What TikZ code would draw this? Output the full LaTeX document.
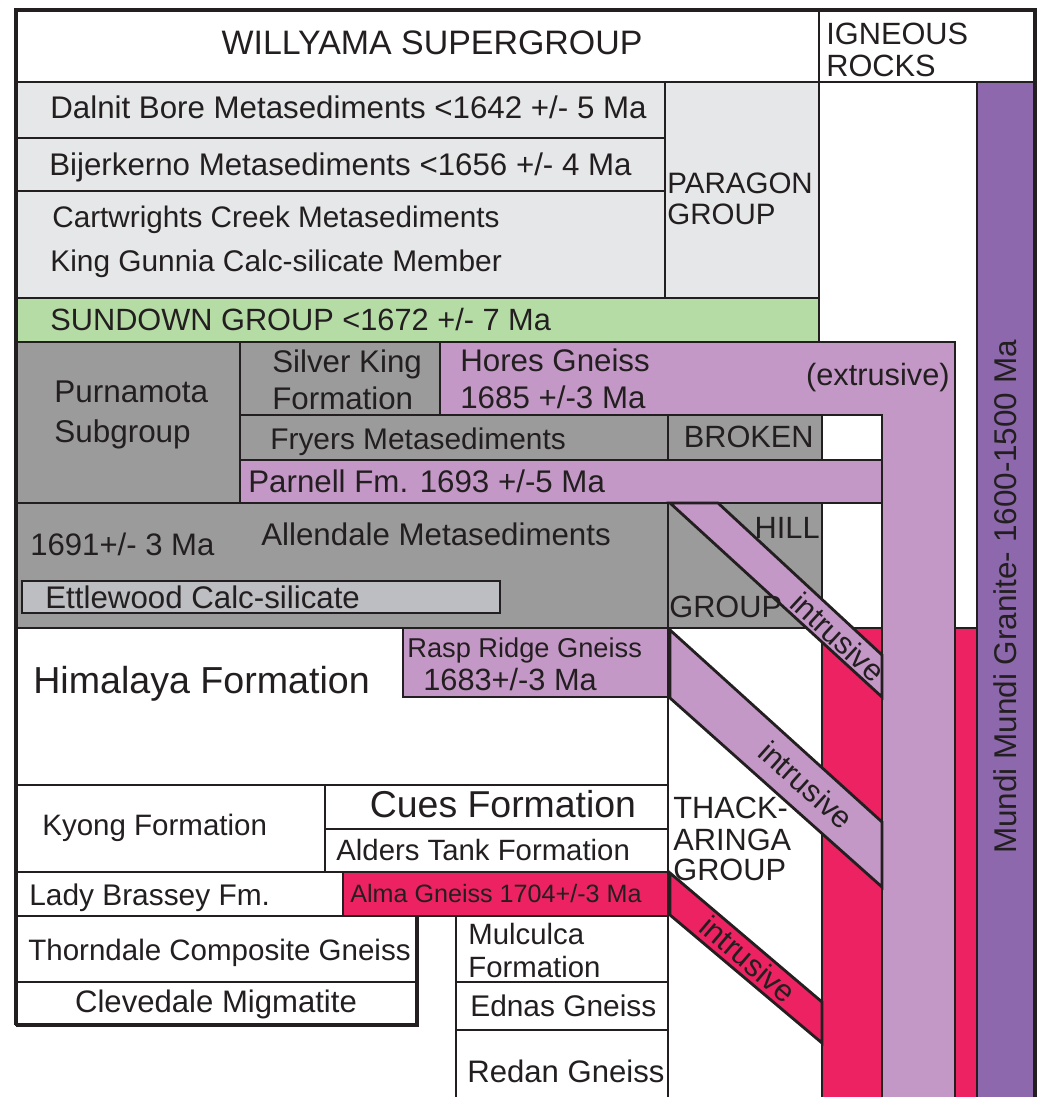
\documentclass[tikz,border=0pt]{standalone}
\usepackage{fontspec}
\setmainfont{Liberation Sans}
\usetikzlibrary{positioning}
\definecolor{ink}{HTML}{231F20}
\definecolor{pale}{HTML}{E6E7E8}
\definecolor{sundown}{HTML}{B6DCA6}
\definecolor{midgray}{HTML}{9B9B9B}
\definecolor{calcgray}{HTML}{BCBEC1}
\definecolor{lilac}{HTML}{C498C6}
\definecolor{alma}{HTML}{EC2262}
\definecolor{granite}{HTML}{8E68AC}

\begin{document}
\begin{tikzpicture}[
  x=0.02cm, y=-0.02cm,
  box/.style={draw=ink, line width=1.6pt},
  frame/.style={draw=ink, line width=2.8pt},
  txt/.style={anchor=base west, inner sep=0pt, text=ink, font=\fontsize{#1}{#1}\selectfont},
  txt/.default=17.5,
  mid/.style={txt=#1, anchor=base},
  mid/.default=17.5,
  rgt/.style={txt=#1, anchor=base east},
  rgt/.default=17.5,
  slant/.style={anchor=center, inner sep=0pt, text=ink, font=\fontsize{17.5}{17.5}\selectfont}
]
  \fill[white] (0,0) rectangle (1043,1097);
  \useasboundingbox (0,0) rectangle (1043,1097);

  % header
  \draw[box] (16,10) rectangle (819,82);
  \draw[box] (819,10) rectangle (1035,82);

  % Paragon group
  \draw[box, fill=pale] (16,82) rectangle (665,138);
  \draw[box, fill=pale] (16,138) rectangle (665,191);
  \draw[box, fill=pale] (16,191) rectangle (665,298);
  \draw[box, fill=pale] (665,82) rectangle (819,298);
  \draw[box, fill=sundown] (16,298) rectangle (819,342);

  % igneous column
  \draw[box, fill=granite] (977,82) rectangle (1035,1110);
  \draw[box, fill=alma] (955,628) rectangle (977,1110);
  \draw[box, fill=alma] (822,628) rectangle (882,1110);
  \draw[box, fill=lilac] (440,342) -- (955,342) -- (955,1110) -- (882,1110)
    -- (882,415) -- (440,415) -- cycle;

  % Broken Hill group
  \draw[box, fill=midgray] (16,342) rectangle (240,503);
  \draw[box, fill=midgray] (240,342) rectangle (440,415);
  \draw[box, fill=midgray] (240,415) rectangle (668,460);
  \draw[box, fill=midgray] (668,415) rectangle (822,460);
  \draw[box] (822,415) rectangle (882,460);
  \draw[box, fill=lilac] (240,460) rectangle (882,503);
  \draw[box, fill=midgray] (16,503) rectangle (668,628);
  \draw[box, fill=calcgray] (22,581) rectangle (500,613);
  \draw[box, fill=midgray] (668,503) rectangle (822,628);
  \draw[box] (822,503) rectangle (882,628);

  % Thackaringa group
  \draw[box] (16,628) rectangle (668,785);
  \draw[box, fill=lilac] (403,628) rectangle (668,697);
  \draw[box] (668,628) rectangle (822,1110);
  \draw[box] (16,785) rectangle (325,872);
  \draw[box] (325,785) rectangle (668,829);
  \draw[box] (325,829) rectangle (668,872);
  \draw[box] (16,872) rectangle (343,916);
  \draw[box, fill=alma] (343,872) rectangle (668,916);
  \draw[box] (16,916) rectangle (417,982);
  \draw[box] (16,982) rectangle (417,1025);
  \draw[box] (456,916) rectangle (668,982);
  \draw[box] (456,982) rectangle (668,1030);
  \draw[box] (456,1030) rectangle (668,1110);

  % intrusive bands
  \draw[box, fill=lilac] (670,503) -- (718,503) -- (882,655) -- (882,697) -- cycle;
  \draw[box, fill=lilac] (670,630) -- (882,822) -- (882,887) -- (670,698) -- cycle;
  \draw[box, fill=alma] (670,873) -- (822,1002) -- (822,1043) -- (670,915) -- cycle;

  % outer frame
  \draw[frame] (16,1025) -- (16,10) -- (1035,10) -- (1035,1110);
  \draw[frame] (16,1025) -- (417,1025) -- (417,916);

  % labels
  \node[mid=19.3] (willyama) at (432,55) {WILLYAMA SUPERGROUP};
  \node[txt] (igneous) at (826,45) {IGNEOUS};
  \node[txt] (rocks) at (826,77) {ROCKS};
  \node[txt=17.8] (dalnit) at (50,119) {Dalnit Bore Metasediments <1642 +/- 5 Ma};
  \node[txt=17.8] (bijer) at (49,176) {Bijerkerno Metasediments <1656 +/- 4 Ma};
  \node[txt=16.9] (cartw) at (52,228) {Cartwrights Creek Metasediments};
  \node[txt=17] (gunnia) at (50,272) {King Gunnia Calc-silicate Member};
  \node[txt=16.8] (paragon) at (667,194) {PARAGON};
  \node[txt=16.8] (pgroup) at (667,225) {GROUP};
  \node[txt] (sundownlbl) at (50,331) {SUNDOWN GROUP <1672 +/- 7 Ma};
  \node[txt=17.9] (purna) at (54,403) {Purnamota};
  \node[txt=17.9] (subgr) at (54,442) {Subgroup};
  \node[txt=17.8] (silver) at (272,373) {Silver King};
  \node[txt=17.8] (silverfm) at (272,410) {Formation};
  \node[txt=17.8] (hores) at (460,372) {Hores Gneiss};
  \node[txt=17.8] (horesage) at (460,409) {1685 +/-3 Ma};
  \node[rgt] (extrusive) at (950,386) {(extrusive)};
  \node[txt=17] (fryers) at (270,449) {Fryers Metasediments};
  \node[rgt] (broken) at (814,447) {BROKEN};
  \node[txt=17.8] (parnell) at (248,492) {Parnell Fm. 1693 +/-5 Ma};
  \node[txt=17.7] (allage) at (30,555) {1691+/- 3 Ma};
  \node[txt=17.8] (allendale) at (261,545) {Allendale Metasediments};
  \node[txt=17.8] (ettle) at (45,608) {Ettlewood Calc-silicate};
  \node[rgt] (hill) at (820,538) {HILL};
  \node[txt] (hgroup) at (669,617) {GROUP};
  \node[txt=21.4] (himalaya) at (33,693) {Himalaya Formation};
  \node[txt=15.5] (rasp) at (407,657) {Rasp Ridge Gneiss};
  \node[txt] (raspage) at (423,690) {1683+/-3 Ma};
  \node[mid=21.3] (cues) at (503,817) {Cues Formation};
  \node[txt=16.8] (kyong) at (42,835) {Kyong Formation};
  \node[txt=16.7] (alders) at (336,860) {Alders Tank Formation};
  \node[txt=17] (lady) at (29,905) {Lady Brassey Fm.};
  \node[txt=14.3] (almalbl) at (350,902) {Alma Gneiss 1704+/-3 Ma};
  \node[txt=16.8] (thorn) at (28,960) {Thorndale Composite Gneiss};
  \node[mid=17.7] (clev) at (216,1012) {Clevedale Migmatite};
  \node[txt=16.7] (mulc) at (468,944) {Mulculca};
  \node[txt=16.7] (mulcfm) at (468,977) {Formation};
  \node[txt=17] (ednas) at (470,1016) {Ednas Gneiss};
  \node[txt=17.7] (redan) at (467,1082) {Redan Gneiss};
  \node[txt] (thack) at (673,818) {THACK-};
  \node[txt] (aringa) at (673,850) {ARINGA};
  \node[txt] (tgroup) at (673,880) {GROUP};
  \node[anchor=center, inner sep=0pt, text=ink, rotate=90,
        font=\fontsize{17.9}{17.9}\selectfont] (mundi) at (1005,597)
        {Mundi Mundi Granite- 1600-1500 Ma};
  \node[slant, rotate=-42.6] (intr1) at (838,637) {intrusive};
  \node[slant, rotate=-41.8] (intr2) at (806,785) {intrusive};
  \node[slant, rotate=-40.4] (intr3) at (748,959) {intrusive};
\end{tikzpicture}
\end{document}
